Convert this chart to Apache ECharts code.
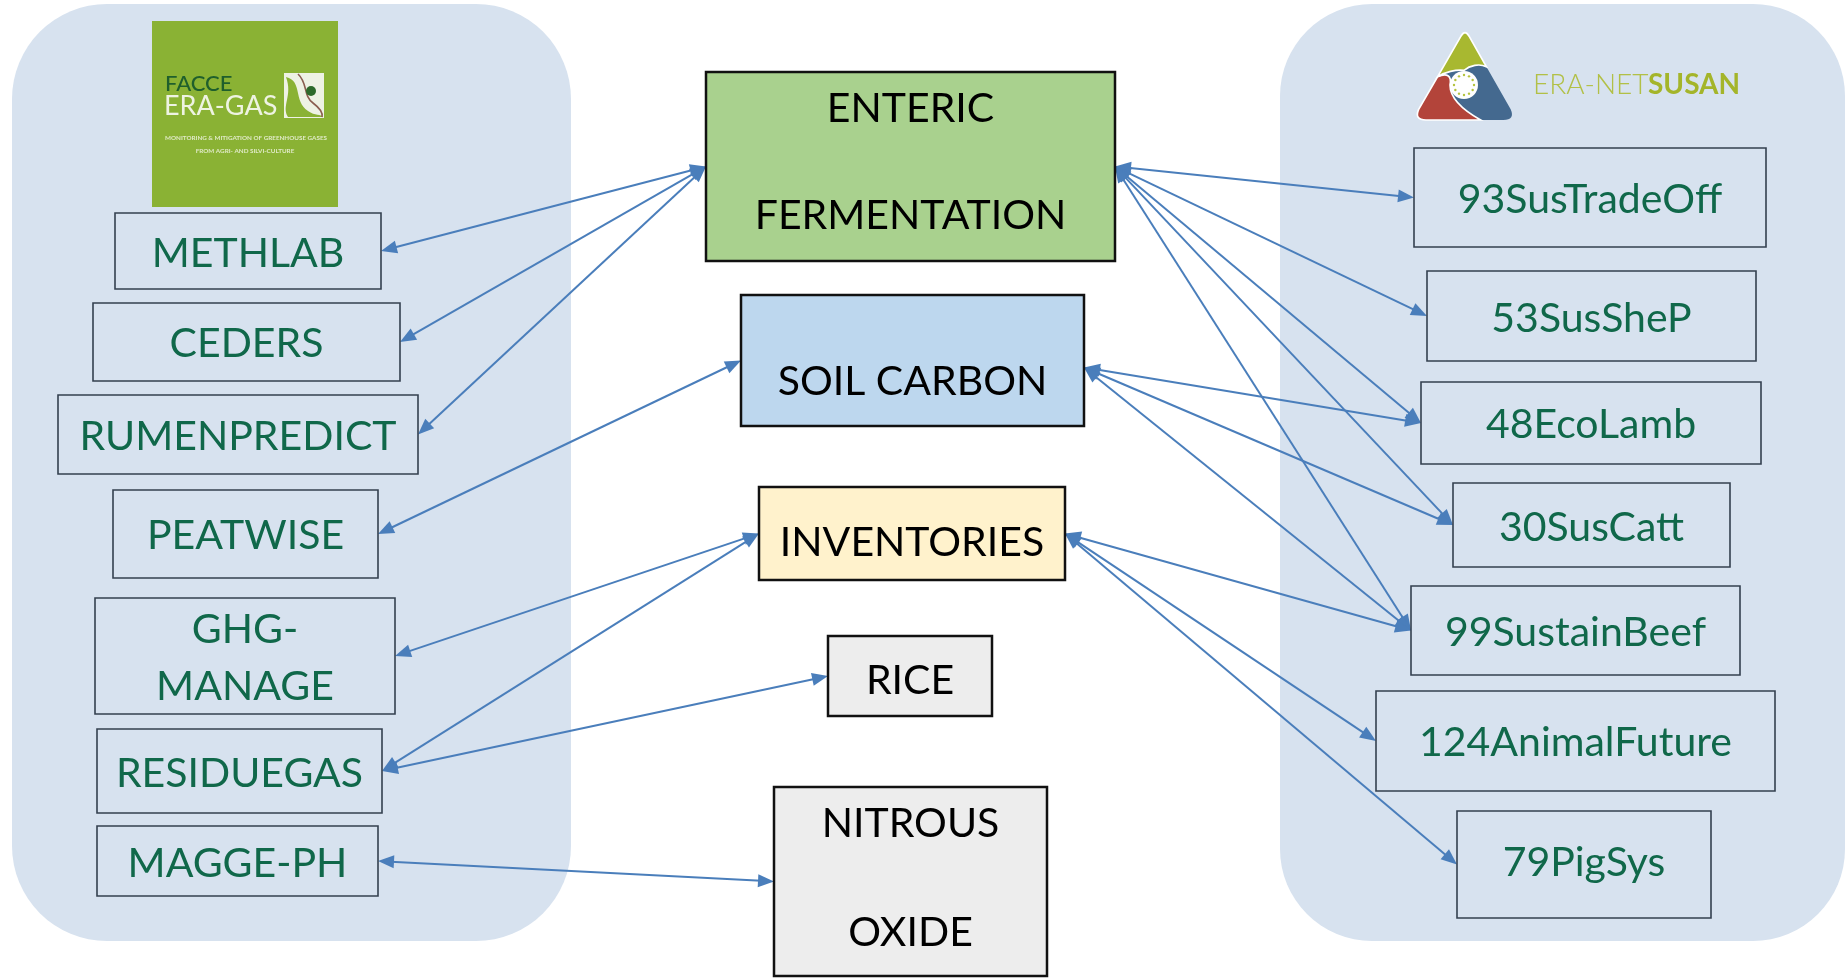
<!DOCTYPE html>
<html>
<head>
<meta charset="utf-8">
<script src="https://cdn.jsdelivr.net/npm/echarts@6/dist/echarts.min.js"></script>
<style>html,body{margin:0;padding:0;background:#fff}#c{width:1845px;height:980px}</style>
</head>
<body>
<div id="c"></div>
<script>
// ---------------- data ----------------
const topics = ['ENTERIC FERMENTATION', 'SOIL CARBON', 'INVENTORIES', 'RICE', 'NITROUS OXIDE'];
const topicLabels = [['ENTERIC', 'FERMENTATION'], ['SOIL CARBON'], ['INVENTORIES'], ['RICE'], ['NITROUS', 'OXIDE']];
const eraGasProjects = ['METHLAB', 'CEDERS', 'RUMENPREDICT', 'PEATWISE', 'GHG-MANAGE', 'RESIDUEGAS', 'MAGGE-PH'];
const eraGasLabels = [['METHLAB'], ['CEDERS'], ['RUMENPREDICT'], ['PEATWISE'], ['GHG-', 'MANAGE'], ['RESIDUEGAS'], ['MAGGE-PH']];
const susanProjects = ['93SusTradeOff', '53SusSheP', '48EcoLamb', '30SusCatt', '99SustainBeef', '124AnimalFuture', '79PigSys'];
const eraGasLinks = [
  ['METHLAB', 'ENTERIC FERMENTATION'],
  ['CEDERS', 'ENTERIC FERMENTATION'],
  ['RUMENPREDICT', 'ENTERIC FERMENTATION'],
  ['PEATWISE', 'SOIL CARBON'],
  ['GHG-MANAGE', 'INVENTORIES'],
  ['RESIDUEGAS', 'INVENTORIES'],
  ['RESIDUEGAS', 'RICE'],
  ['MAGGE-PH', 'NITROUS OXIDE']
];
const susanLinks = [
  ['93SusTradeOff', 'ENTERIC FERMENTATION'],
  ['53SusSheP', 'ENTERIC FERMENTATION'],
  ['48EcoLamb', 'ENTERIC FERMENTATION'],
  ['30SusCatt', 'ENTERIC FERMENTATION'],
  ['99SustainBeef', 'ENTERIC FERMENTATION'],
  ['48EcoLamb', 'SOIL CARBON'],
  ['30SusCatt', 'SOIL CARBON'],
  ['99SustainBeef', 'SOIL CARBON'],
  ['99SustainBeef', 'INVENTORIES'],
  ['124AnimalFuture', 'INVENTORIES'],
  ['79PigSys', 'INVENTORIES']
];

// ---------------- layout (positions / styles) ----------------
const panelLayout = [
  { rect: [12, 4, 571, 941], r: 95 },
  { rect: [1280, 4, 1845, 941], r: 92 }
];
const topicFills = {
  'ENTERIC FERMENTATION': '#a9d18e', 'SOIL CARBON': '#bdd7ee', 'INVENTORIES': '#fff2cc',
  'RICE': '#ededed', 'NITROUS OXIDE': '#ededed'
};
const boxLayout = {
  'ENTERIC FERMENTATION': { rect: [706, 72, 1115, 261], textY: [108, 215] },
  'SOIL CARBON': { rect: [741, 295, 1084, 426], textY: [381], dyR: 7 },
  'INVENTORIES': { rect: [759, 487, 1065, 580], textY: [542] },
  'RICE': { rect: [828, 636, 992, 716], textY: [680] },
  'NITROUS OXIDE': { rect: [774, 787, 1047, 976], textY: [823, 932] },
  'METHLAB': { rect: [115, 213, 381, 289], textY: [253] },
  'CEDERS': { rect: [93, 303, 400, 381], textY: [343] },
  'RUMENPREDICT': { rect: [58, 395, 418, 474], textY: [436] },
  'PEATWISE': { rect: [113, 490, 378, 578], textY: [535] },
  'GHG-MANAGE': { rect: [95, 598, 395, 714], textY: [629, 686] },
  'RESIDUEGAS': { rect: [97, 729, 382, 813], textY: [773] },
  'MAGGE-PH': { rect: [97, 826, 378, 896], textY: [863] },
  '93SusTradeOff': { rect: [1414, 148, 1766, 247], textY: [199] },
  '53SusSheP': { rect: [1427, 271, 1756, 361], textY: [318] },
  '48EcoLamb': { rect: [1421, 382, 1761, 464], textY: [424] },
  '30SusCatt': { rect: [1453, 483, 1730, 567], textY: [527] },
  '99SustainBeef': { rect: [1411, 586, 1740, 675], textY: [632] },
  '124AnimalFuture': { rect: [1376, 691, 1775, 791], textY: [742] },
  '79PigSys': { rect: [1457, 811, 1711, 918], textY: [862] }
};

const FONT = 'Lato, "Open Sans", sans-serif';
const GREEN_TXT = '#10684a';
const PANEL = '#d7e2ef';
const ARROW = '#4a7ebb';

function labelOf(name) {
  let i = topics.indexOf(name); if (i >= 0) return topicLabels[i];
  i = eraGasProjects.indexOf(name); if (i >= 0) return eraGasLabels[i];
  return [name];
}
function anchor(name, side) {
  const L = boxLayout[name], r = L.rect;
  const dy = (side === 'right' ? L.dyR : L.dyL) || 0;
  return [side === 'right' ? r[2] : r[0], (r[1] + r[3]) / 2 + dy];
}
const boxNames = topics.concat(eraGasProjects, susanProjects);
const linkData = eraGasLinks.map(l => anchor(l[0], 'right').concat(anchor(l[1], 'left')))
  .concat(susanLinks.map(l => anchor(l[0], 'left').concat(anchor(l[1], 'right'))));

// ---------------- logos (decoration) ----------------
function centerText(text, x, y, font, fill) {
  return { type: 'text', style: { text: text, x: x, y: y, font: font, fill: fill, align: 'center', textAlign: 'center', verticalAlign: 'middle', textVerticalAlign: 'middle' } };
}
function logoElements() {
  const stars = [];
  for (let k = 0; k < 12; k++) {
    const a = k * Math.PI / 6;
    stars.push({ type: 'circle', shape: { cx: 222 + 30 * Math.cos(a), cy: 225 + 30 * Math.sin(a), r: 3.6 }, style: { fill: '#b5c33f' } });
  }
  return [
    { type: 'group', x: 152, y: 21, children: [
      { type: 'rect', shape: { x: 0, y: 0, width: 186, height: 186 }, style: { fill: '#8ab234' } },
      { type: 'text', style: { text: 'FACCE', x: 13, y: 63, font: '500 22px ' + FONT, fill: '#1f5f2c', verticalAlign: 'middle', textVerticalAlign: 'middle' } },
      { type: 'text', style: { text: 'ERA-GAS', x: 12, y: 85, font: '27px ' + FONT, fill: '#eef3e2', verticalAlign: 'middle', textVerticalAlign: 'middle' } },
      { type: 'rect', shape: { x: 132, y: 52, width: 40, height: 45 }, style: { fill: '#eef2e4' } },
      { type: 'path', shape: { pathData: 'M134,56 C151,60 141,80 156,90 C163,95 169,93 171,96 L136,96 C129,85 141,75 134,56 Z' }, style: { fill: '#8ab234' } },
      { type: 'path', shape: { pathData: 'M146,53 C156,62 151,75 161,82 C169,88 171,92 170,96' }, style: { stroke: '#8a5d4f', lineWidth: 1.6, fill: null } },
      { type: 'circle', shape: { cx: 159, cy: 70, r: 5 }, style: { fill: '#2d6a2a' } },
      centerText('MONITORING & MITIGATION OF GREENHOUSE GASES', 94, 117, 'bold 6.3px ' + FONT, '#e0eac6'),
      centerText('FROM AGRI- AND SILVI-CULTURE', 93, 130, 'bold 6.3px ' + FONT, '#e0eac6')
    ] },
    { type: 'group', x: 1390, y: 10, scaleX: 1 / 3, scaleY: 1 / 3, children: [
      { type: 'path', shape: { pathData: 'M212,80 Q225,56 238,80 L362,298 Q376,330 340,330 L108,330 Q72,330 86,298 Z' }, style: { fill: '#44698f' } },
      { type: 'path', shape: { pathData: 'M143,200 C170,188 186,196 180,225 C180,268 222,302 272,330 L108,330 Q72,330 86,298 Z' }, style: { fill: '#b3443a', stroke: '#ffffff', lineWidth: 5 } },
      { type: 'path', shape: { pathData: 'M143,200 L212,80 Q225,56 238,80 L289,170 C268,160 240,166 222,181 C198,178 165,186 143,200 Z' }, style: { fill: '#a8b830', stroke: '#ffffff', lineWidth: 5 } },
      { type: 'circle', shape: { cx: 222, cy: 225, r: 42 }, style: { fill: '#ffffff' } }
    ].concat(stars) },
    { type: 'text', style: { text: 'ERA-NET', x: 1533, y: 85, font: '300 28px ' + FONT, fill: '#b2c046', verticalAlign: 'middle', textVerticalAlign: 'middle' } },
    { type: 'text', style: { text: 'SUSAN', x: 1648, y: 85, font: 'bold 28px ' + FONT, fill: '#a4b52a', verticalAlign: 'middle', textVerticalAlign: 'middle' } }
  ];
}

// ---------------- chart ----------------
const chart = echarts.init(document.getElementById('c'));
chart.setOption({
  animation: false,
  backgroundColor: '#ffffff',
  grid: { left: 0, right: 0, top: 0, bottom: 0 },
  xAxis: { type: 'value', min: 0, max: 1845, show: false },
  yAxis: { type: 'value', min: 0, max: 980, inverse: true, show: false },
  series: [
    {
      type: 'custom', name: 'panels', z: 1, clip: false, silent: true,
      data: panelLayout.map(p => p.rect),
      encode: { x: [0, 2], y: [1, 3] },
      renderItem: function (params, api) {
        const p = panelLayout[params.dataIndex];
        const a = api.coord([api.value(0), api.value(1)]);
        const b = api.coord([api.value(2), api.value(3)]);
        return { type: 'rect', shape: { x: a[0], y: a[1], width: b[0] - a[0], height: b[1] - a[1], r: p.r }, style: { fill: PANEL } };
      }
    },
    {
      type: 'custom', name: 'logos', z: 2, coordinateSystem: 'none', silent: true,
      data: [[0]],
      renderItem: function () { return { type: 'group', children: logoElements() }; }
    },
    {
      type: 'custom', name: 'links', z: 3, clip: false, silent: true,
      data: linkData,
      encode: { x: [0, 2], y: [1, 3] },
      renderItem: function (params, api) {
        const a = api.coord([api.value(0), api.value(1)]);
        const b = api.coord([api.value(2), api.value(3)]);
        const dx = b[0] - a[0], dy = b[1] - a[1], len = Math.hypot(dx, dy);
        const ux = dx / len, uy = dy / len, nx = -uy, ny = ux;
        const H = 16, W = 6.5;
        function head(t, dir) {
          const bx = t[0] - dir * ux * H, by = t[1] - dir * uy * H;
          return { type: 'polygon', shape: { points: [[t[0], t[1]], [bx + nx * W, by + ny * W], [bx - nx * W, by - ny * W]] }, style: { fill: ARROW } };
        }
        return { type: 'group', children: [
          { type: 'line', shape: { x1: a[0] + ux * H * 0.8, y1: a[1] + uy * H * 0.8, x2: b[0] - ux * H * 0.8, y2: b[1] - uy * H * 0.8 }, style: { stroke: ARROW, lineWidth: 2 } },
          head(a, -1), head(b, 1)
        ] };
      }
    },
    {
      type: 'custom', name: 'boxes', z: 4, clip: false, silent: true,
      data: boxNames.map(n => boxLayout[n].rect),
      encode: { x: [0, 2], y: [1, 3] },
      renderItem: function (params, api) {
        const name = boxNames[params.dataIndex];
        const L = boxLayout[name];
        const isTopic = topics.indexOf(name) >= 0;
        const a = api.coord([api.value(0), api.value(1)]);
        const b = api.coord([api.value(2), api.value(3)]);
        const cx = (a[0] + b[0]) / 2;
        const children = [{
          type: 'rect', shape: { x: a[0], y: a[1], width: b[0] - a[0], height: b[1] - a[1] },
          style: { fill: isTopic ? topicFills[name] : PANEL, stroke: isTopic ? '#111111' : '#34404f', lineWidth: isTopic ? 2.5 : 1.6 }
        }];
        labelOf(name).forEach(function (t, k) {
          const p = api.coord([api.value(0), L.textY[k]]);
          children.push(centerText(t, cx, p[1] + 1, '41px ' + FONT, isTopic ? '#000000' : GREEN_TXT));
        });
        return { type: 'group', children: children };
      }
    }
  ]
});
</script>
</body>
</html>
